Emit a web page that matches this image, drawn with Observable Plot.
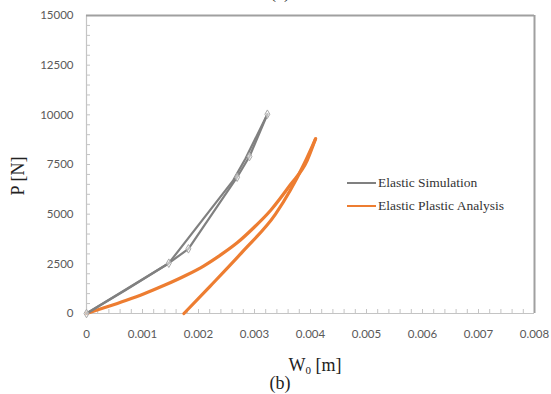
<!DOCTYPE html>
<html>
<head>
<meta charset="utf-8">
<script src="https://cdn.jsdelivr.net/npm/d3@7"></script>
<script src="https://cdn.jsdelivr.net/npm/@observablehq/plot@0.6"></script>
<style>
  html, body { margin: 0; padding: 0; background: #fff; }
  #wrap { position: relative; width: 551px; height: 394px; overflow: hidden; }
  .lbl { position: absolute; font-family: "Liberation Serif", "DejaVu Serif", serif; color: #222; white-space: nowrap; }
  .leg { position: absolute; font-family: "Liberation Serif", serif; font-size: 13.5px; color: #333; white-space: nowrap; }
  .sw { position: absolute; height: 0; }
</style>
</head>
<body>
<div id="wrap"></div>
<script>
// ---- data ----
const simLoadW = [0, 0.00147, 0.00182, 0.00269, 0.00291, 0.00323];
const simLoadP = [0, 2532, 3256, 6860, 7900, 10030];
const simUnloadW = [0.00323, 0.00284, 0.00262, 0.00147, 0.0007, 0];
const simUnloadP = [10030, 7800, 6700, 2532, 1180, 0];
const simMarkW = [0, 0.00147, 0.00182, 0.00269, 0.00291, 0.00323];
const simMarkP = [0, 2532, 3256, 6860, 7900, 10030];

const epLoadW = [0, 0.00034, 0.0007, 0.00105, 0.00141, 0.00177, 0.00209, 0.00239, 0.00269, 0.00299, 0.00329, 0.00364, 0.00394, 0.00409];
const epLoadP = [0, 310, 654, 1020, 1443, 1912, 2390, 2940, 3560, 4330, 5200, 6480, 7700, 8793];
const epUnloadW = [0.00174, 0.00221, 0.0028, 0.003375, 0.00364, 0.00388, 0.00409];
const epUnloadP = [0, 1380, 3150, 5000, 6200, 7500, 8793];

const xTicks = [0, 0.001, 0.002, 0.003, 0.004, 0.005, 0.006, 0.007, 0.008];
const yTicks = [0, 2500, 5000, 7500, 10000, 12500, 15000];
const xMinor = d3.range(0, 0.00801, 0.0002);
const yMinor = d3.range(0, 15001, 500);

const seriesNames = ["Elastic Simulation", "Elastic Plastic Analysis"];

// ---- build tables ----
const simRows = [
  ...simLoadW.map((w, i) => ({w, p: simLoadP[i], path: "load"})),
  ...simUnloadW.map((w, i) => ({w, p: simUnloadP[i], path: "unload"}))
];
const simMarks = simMarkW.map((w, i) => ({w, p: simMarkP[i]}));
const epRows = [
  ...epLoadW.map((w, i) => ({w, p: epLoadP[i], path: "load"})),
  ...epUnloadW.map((w, i) => ({w, p: epUnloadP[i], path: "unload"}))
];

const W = 551, H = 394, mL = 86, mR = 17, mT = 15, mB = 81;
const plotW = W - mL - mR, plotH = H - mT - mB;
const tickLen = 4;

const chart = Plot.plot({
  width: W, height: H,
  marginLeft: mL, marginRight: mR, marginTop: mT, marginBottom: mB,
  style: {fontFamily: "Lato, 'Open Sans', sans-serif", fontSize: "11.5px", color: "#595959", background: "#fff"},
  x: {domain: [0, 0.008], label: null},
  y: {domain: [0, 15000], label: null},
  marks: [
    // inward minor ticks
    Plot.tickX(xMinor, {x: d => d, stroke: "#c4c4c4", insetTop: plotH - tickLen}),
    Plot.tickY(yMinor, {y: d => d, stroke: "#c4c4c4", insetRight: plotW - tickLen}),
    // axis lines and frame
    Plot.ruleX([0], {stroke: "#c4c4c4", strokeWidth: 1.2}),
    Plot.ruleY([0], {stroke: "#c4c4c4", strokeWidth: 1.2}),
    Plot.ruleY([15000], {stroke: "#a0a0a0", strokeWidth: 2}),
    Plot.ruleX([0.008], {stroke: "#a0a0a0", strokeWidth: 2}),
    Plot.axisX(xTicks, {tickSize: 0, tickPadding: 16, label: null, tickFormat: d => d === 0 ? "0" : d3.format(".3f")(d), fill: "#595959"}),
    Plot.axisY(yTicks, {tickSize: 0, tickPadding: 13, label: null, tickFormat: d => String(d), fill: "#595959"}),
    // elastic plastic analysis
    Plot.line(epRows, {x: "w", y: "p", z: "path", stroke: "#ED7D31", strokeWidth: 3.2, curve: "monotone-x"}),
    // elastic simulation
    Plot.line(simRows, {x: "w", y: "p", z: "path", stroke: "#808080", strokeWidth: 2.2}),
    Plot.dot(simMarks, {x: "w", y: "p", symbol: "diamond", r: 2.6, stroke: "#a8a8a8", fill: "#fff", fillOpacity: 0.5, strokeWidth: 1})
  ]
});

const wrap = document.getElementById("wrap");
wrap.appendChild(chart);

function addLabel(html, cls, css) {
  const d = document.createElement("div");
  d.className = cls;
  d.innerHTML = html;
  Object.assign(d.style, css);
  wrap.appendChild(d);
  return d;
}
// axis titles
addLabel("P [N]", "lbl", {left: "18px", top: "176px", fontSize: "18px", transform: "translate(-50%,-50%) rotate(-90deg)"});
addLabel("W<sub style='font-size:11px;vertical-align:-3px'>0</sub> [m]", "lbl", {left: "315px", top: "365px", fontSize: "18px", transform: "translate(-50%,-50%)"});
addLabel("(b)", "lbl", {left: "280px", top: "383px", fontSize: "18px", transform: "translate(-50%,-50%)"});
addLabel("(a)", "lbl", {left: "280px", top: "-8px", fontSize: "18px", transform: "translate(-50%,-50%)"});

// legend
const legColors = ["#808080", "#ED7D31"];
const legY = [183, 206];
seriesNames.forEach((name, i) => {
  addLabel("", "sw", {left: "347px", top: (legY[i] - 1) + "px", width: "29px", borderTop: `2px solid ${legColors[i]}`});
  addLabel(name, "leg", {left: "378px", top: legY[i] + "px", transform: "translateY(-50%)"});
});
</script>
</body>
</html>
